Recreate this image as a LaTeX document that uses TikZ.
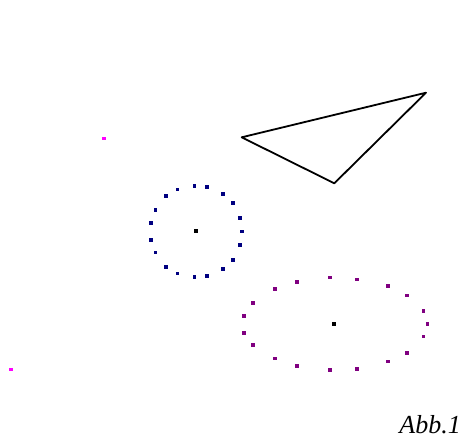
\documentclass[tikz,border=0pt]{standalone}
\usepackage{fontspec}
\setmainfont{Liberation Serif}
\definecolor{navyd}{RGB}{0,0,128}
\definecolor{purpd}{RGB}{128,0,128}
\definecolor{magd}{RGB}{255,0,255}
\tikzset{
  dot/.style={fill=#1,minimum size=3.6pt,inner sep=0pt,outer sep=0pt,draw=none,rectangle},
  tri/.style={draw=black,line width=1.8pt,line join=round},
  lbl/.style={font=\itshape\fontsize{26}{28}\selectfont,inner sep=0pt,anchor=base east}
}
\begin{document}
\begin{tikzpicture}[x=1pt,y=-1pt]
\useasboundingbox (0,0) rectangle (461,445);
% triangle
\coordinate (A) at (241.7,137.3);
\coordinate (B) at (426,92.7);
\coordinate (C) at (334.3,183.3);
\draw[tri] (A) -- (B) -- (C) -- cycle;
% magenta dots
\node[dot=magd] (m1) at (103.7,138.3) {};
\node[dot=magd] (m2) at (10.7,369.3) {};
% circle
\node[dot=black] (c0) at (196,231) {};
\foreach \x/\y [count=\i] in {194.3/185.7,206.7/186.7,223/194,232.7/202.7,240/218,242/231.3,240/244.7,232.7/260,223/268.7,206.7/276,194.3/277,177.3/273.3,166/266.7,155.3/252.3,150.7/240,150.7/222.7,155.3/210,166/196,177.3/189.3}
  \node[dot=navyd] (cd\i) at (\x,\y) {};
% ellipse
\node[dot=black] (e0) at (334,323.7) {};
\foreach \x/\y [count=\i] in {330/277.3,356.7/279.3,388/286,407/295.3,423.3/310.7,427.3/324,423.3/336.3,407/352.7,388/361.3,356.7/369,330/370,296.7/366,274.7/358.3,252.7/345,244/332.7,244/315.7,252.7/303,274.7/288.7,296.7/281.7}
  \node[dot=purpd] (ed\i) at (\x,\y) {};
% label
\node[lbl] (abb) at (461,433) {Abb.1};
\end{tikzpicture}
\end{document}
